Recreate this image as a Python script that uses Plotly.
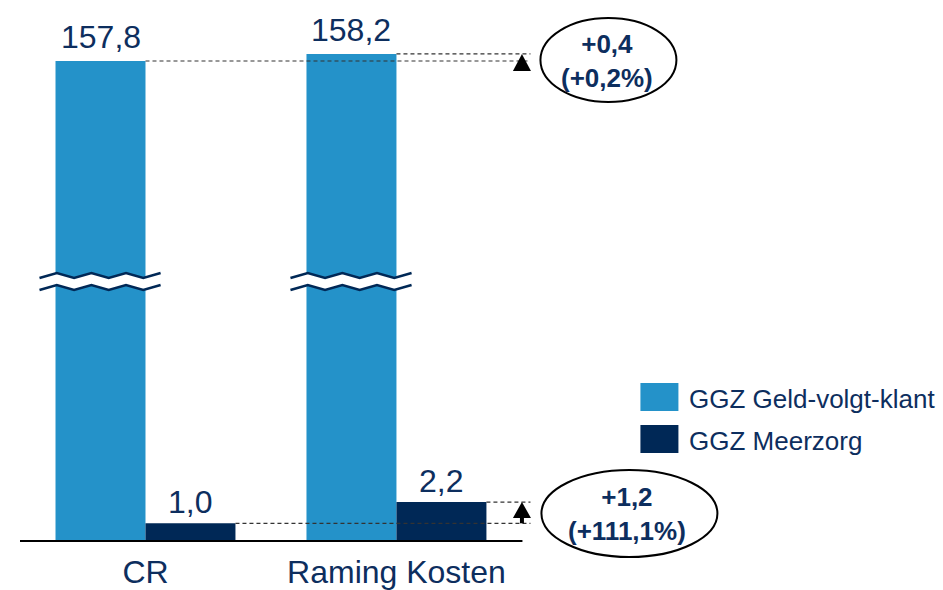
import plotly.graph_objects as go

# ---- data ----
categories = ["CR", "Raming Kosten"]
series_names = ["GGZ Geld-volgt-klant", "GGZ Meerzorg"]
ggz_gvk = [157.8, 158.2]
ggz_meerzorg = [1.0, 2.2]
gvk_labels = ["157,8", "158,2"]
meerzorg_labels = ["1,0", "2,2"]
diff_gvk_label = "+0,4<br>(+0,2%)"
diff_meerzorg_label = "+1,2<br>(+111,1%)"

# ---- style ----
LIGHT = "#2492C9"
DARK = "#002856"
TXT = "#0D2E5E"
FONT = "Liberation Sans, Arial, sans-serif"

W, H = 943, 590
XR = [-0.5, 1.56]
UNIT_PX = 251.0
ML = 19.5
PW = (XR[1] - XR[0]) * UNIT_PX
MT, MB = 10.0, 49.0
PH = H - MT - MB
BREAK_PX = 281.5          # pixel row of the axis break
SCALE = 17.7              # px per unit
LOW_TOP = (H - MB - BREAK_PX) / SCALE
UP_BOT = ggz_gvk[0] - (BREAK_PX - 61) / SCALE
UP_TOP = UP_BOT + (BREAK_PX - MT) / SCALE
split = (H - MB - BREAK_PX) / PH

def px(xp):
    return (xp - ML) / PW

def py(yp):
    return (H - MB - yp) / PH

BARGAP = 0.283
half = (1 - BARGAP) / 2   # width of one bar in category units

fig = go.Figure()
for ax in ["y", "y2"]:
    fig.add_trace(go.Bar(x=[0, 1], y=ggz_gvk, name=series_names[0], marker_color=LIGHT,
                         marker_line_width=0, yaxis=ax, xaxis="x", offsetgroup="a",
                         showlegend=False, hoverinfo="skip"))
    fig.add_trace(go.Bar(x=[0, 1], y=ggz_meerzorg, name=series_names[1], marker_color=DARK,
                         marker_line_width=0, yaxis=ax, xaxis="x", offsetgroup="b",
                         showlegend=False, hoverinfo="skip"))

annotations = []
shapes = []

# data labels
for i in range(2):
    annotations.append(dict(x=i - half / 2, y=ggz_gvk[i], xref="x", yref="y2",
                            text=gvk_labels[i], showarrow=False, xanchor="center", yanchor="middle",
                            yshift=24, font=dict(size=32, color=TXT, family=FONT)))
    annotations.append(dict(x=i + half / 2, y=ggz_meerzorg[i], xref="x", yref="y",
                            text=meerzorg_labels[i], showarrow=False, xanchor="center", yanchor="middle",
                            yshift=21, font=dict(size=32, color=TXT, family=FONT)))

# baseline (category axis line)
shapes.append(dict(type="line", xref="paper", yref="paper", x0=0, x1=px(522), y0=0, y1=0,
                   line=dict(color="black", width=2)))

# dashed reference lines
XEND = 1.534
ARROW_X = 1.5
dash = dict(color="#333333", width=1.2, dash="4px,3px")
shapes.append(dict(type="line", xref="x", yref="y2", x0=0, x1=XEND, y0=ggz_gvk[0], y1=ggz_gvk[0], line=dash))
shapes.append(dict(type="line", xref="x", yref="y2", x0=1, x1=XEND, y0=ggz_gvk[1], y1=ggz_gvk[1], line=dash))
shapes.append(dict(type="line", xref="x", yref="y", x0=half, x1=XEND, y0=ggz_meerzorg[0], y1=ggz_meerzorg[0], line=dash))
shapes.append(dict(type="line", xref="x", yref="y", x0=1 + half, x1=XEND, y0=ggz_meerzorg[1], y1=ggz_meerzorg[1], line=dash))

# arrows
shapes.append(dict(type="path", xref="x", yref="y2", xsizemode="pixel", ysizemode="pixel",
                   xanchor=ARROW_X, yanchor=ggz_gvk[1], path="M0,0 L9,-17 L-9,-17 Z",
                   fillcolor="black", line=dict(width=0)))
shapes.append(dict(type="line", xref="x", yref="y", x0=ARROW_X, x1=ARROW_X,
                   y0=ggz_meerzorg[0], y1=ggz_meerzorg[1] - 0.5, line=dict(color="black", width=4)))
shapes.append(dict(type="path", xref="x", yref="y", xsizemode="pixel", ysizemode="pixel",
                   xanchor=ARROW_X, yanchor=ggz_meerzorg[1], path="M0,0 L9,-16 L-9,-16 Z",
                   fillcolor="black", line=dict(width=0)))

# ellipses with difference text
shapes.append(dict(type="circle", xref="paper", yref="paper", x0=px(540), x1=px(676),
                   y0=py(102), y1=py(18), line=dict(color="black", width=2)))
shapes.append(dict(type="circle", xref="paper", yref="paper", x0=px(541), x1=px(717),
                   y0=py(557), y1=py(470), line=dict(color="black", width=2)))
annotations.append(dict(x=px(607), y=py(61), xref="paper", yref="paper", text=diff_gvk_label,
                        showarrow=False, xanchor="center", yanchor="middle",
                        font=dict(size=26, color=TXT, family=FONT, weight="bold")))
annotations.append(dict(x=px(627), y=py(514), xref="paper", yref="paper", text=diff_meerzorg_label,
                        showarrow=False, xanchor="center", yanchor="middle",
                        font=dict(size=26, color=TXT, family=FONT, weight="bold")))

# axis break waves
xs = [-61 + k * 17.3 for k in range(8)]
up = [3.5 if k % 2 == 0 else 8.5 for k in range(8)]
lo = [u - 12 for u in up]
def poly(pts):
    return "M" + " L".join(f"{a:.1f},{b:.1f}" for a, b in pts)
band = poly(list(zip(xs, up)) + list(zip(xs[::-1], lo[::-1]))) + " Z"
for i in range(2):
    anchor = dict(xref="x", yref="paper", xsizemode="pixel", ysizemode="pixel",
                  xanchor=i - half / 2, yanchor=split)
    shapes.append(dict(type="path", path=band, fillcolor="white", line=dict(width=0), **anchor))
    shapes.append(dict(type="path", path=poly(list(zip(xs, up))), line=dict(color=DARK, width=2.5), **anchor))
    shapes.append(dict(type="path", path=poly(list(zip(xs, lo))), line=dict(color=DARK, width=2.5), **anchor))

# custom legend
for k, (nm, col) in enumerate(zip(series_names, [LIGHT, DARK])):
    top = 383 + k * 42
    shapes.append(dict(type="rect", xref="paper", yref="paper", x0=px(640), x1=px(678),
                       y0=py(top + 28), y1=py(top), fillcolor=col, line=dict(width=0)))
    annotations.append(dict(x=px(687), y=py(top + 16), xref="paper", yref="paper", text=nm,
                            showarrow=False, xanchor="left", yanchor="middle",
                            font=dict(size=26, color=TXT, family=FONT)))

fig.update_layout(
    width=W, height=H,
    margin=dict(l=ML, r=W - ML - PW, t=MT, b=MB, autoexpand=False),
    plot_bgcolor="white", paper_bgcolor="white",
    barmode="group", bargap=BARGAP, bargroupgap=0,
    showlegend=False,
    xaxis=dict(type="category", range=XR, tickvals=[0, 1], ticktext=categories,
               showline=False, ticks="", showgrid=False, automargin=False,
               zeroline=False, tickfont=dict(size=32, color=TXT, family=FONT),
               ticklabelstandoff=9, fixedrange=True),
    yaxis=dict(domain=[0, split], range=[0, LOW_TOP], visible=False, showgrid=False,
               fixedrange=True, automargin=False),
    yaxis2=dict(domain=[split, 1], range=[UP_BOT, UP_TOP], visible=False, showgrid=False,
                anchor="x", fixedrange=True, automargin=False),
    shapes=shapes, annotations=annotations,
    font=dict(family=FONT),
)

post = """
document.documentElement.style.margin='0';
document.documentElement.style.overflow='hidden';
document.body.style.margin='0';
document.body.style.overflow='hidden';
"""
fig.write_html("out.html", config={"displayModeBar": False}, post_script=post)
